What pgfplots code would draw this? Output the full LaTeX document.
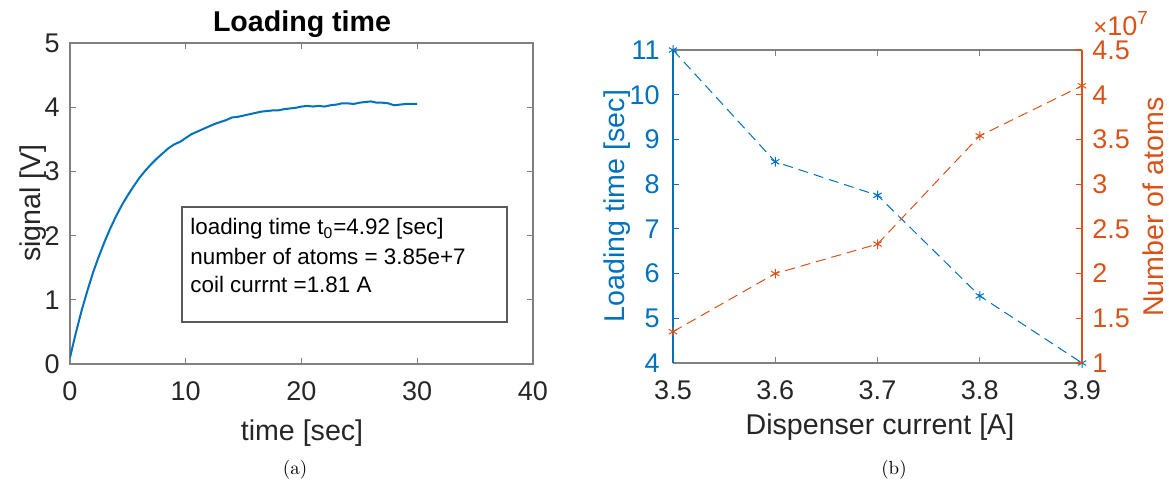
\documentclass[border=0pt]{standalone}
\usepackage{fontspec}
\newfontfamily\arial{Liberation Sans}
\usepackage{pgfplots}
\pgfplotsset{compat=1.18}
\definecolor{mblue}{RGB}{0,114,189}
\definecolor{morange}{RGB}{217,83,25}
\definecolor{axgray}{RGB}{128,128,128}
\definecolor{tickgray}{RGB}{38,38,38}
\newcommand{\tickfont}{\arial\fontsize{13.5}{13.5}\selectfont}
\newcommand{\labfont}{\arial\fontsize{14.3}{14.3}\selectfont}
\begin{document}
\begin{tikzpicture}
\useasboundingbox (0pt,0pt) rectangle (584.5pt,243.5pt);
\pgfplotsset{
  common/.style={
    anchor=south west, scale only axis,
    axis line style={axgray, line width=0.6pt},
    tick style={axgray, line width=0.6pt},
    tick align=inside, major tick length=3pt,
    ticklabel style={font=\tickfont, text=tickgray},
    /pgf/number format/assume math mode=true,
    xticklabel style={inner sep=0pt, anchor=north, yshift=-8.5pt},
  }
}
% ---------- panel (a)
\begin{axis}[common,
  at={(35pt,61.5pt)}, width=231.5pt, height=160.5pt,
  xmin=0, xmax=40, ymin=0, ymax=5,
  xtick={0,10,20,30,40}, ytick={0,1,2,3,4,5},
  yticklabel style={inner sep=0pt, anchor=east, xshift=-5pt},
]
\addplot[mblue, line width=1pt] coordinates {
(0,0.10)(0.5,0.48)(1,0.83)(1.5,1.14)(2,1.43)(2.5,1.68)(3,1.91)(3.5,2.12)
(4,2.31)(4.5,2.48)(5,2.63)(5.5,2.77)(6,2.90)(6.5,3.01)(7,3.11)(7.5,3.20)
(8,3.28)(8.5,3.36)(9,3.42)(9.5,3.46)(10,3.52)(10.5,3.58)(11,3.62)(11.5,3.66)
(12,3.70)(12.5,3.74)(13,3.77)(13.5,3.80)(14,3.84)(14.5,3.85)(15,3.87)(15.5,3.89)
(16,3.91)(16.5,3.93)(17,3.94)(17.5,3.95)(18,3.95)(18.5,3.97)(19,3.98)(19.5,3.99)
(20,4.01)(20.5,4.02)(21,4.01)(21.5,4.02)(22,4.01)(22.5,4.03)(23,4.04)(23.5,4.06)
(24,4.06)(24.5,4.05)(25,4.07)(25.5,4.08)(26,4.09)(26.5,4.07)(27,4.07)(27.5,4.06)
(28,4.03)(28.5,4.04)(29,4.05)(29.5,4.05)(30,4.05)};
\end{axis}
% ---------- panel (b), left axis
\begin{axis}[common,
  at={(336.5pt,62pt)}, width=204.5pt, height=156.5pt,
  xmin=3.5, xmax=3.9, ymin=4, ymax=11,
  xtick={3.5,3.6,3.7,3.8,3.9}, ytick={4,5,6,7,8,9,10,11},
  xticklabel={\pgfmathprintnumber[fixed,fixed zerofill,precision=1]{\tick}},
  axis y line*=left,
  y axis line style={mblue, line width=0.6pt},
  ytick style={mblue, line width=0.6pt},
  yticklabel style={inner sep=0pt, anchor=east, xshift=-6.5pt, text=mblue},
]
\addplot[mblue, line width=0.5pt, dash pattern=on 5pt off 3pt, mark=asterisk, mark size=2.4pt, mark options={solid}]
coordinates {(3.5,11)(3.6,8.5)(3.7,7.75)(3.8,5.5)(3.9,4)};
\end{axis}
% ---------- panel (b), right axis
\begin{axis}[common,
  at={(336.5pt,62pt)}, width=204.5pt, height=156.5pt,
  xmin=3.5, xmax=3.9, ymin=1e7, ymax=4.5e7,
  ytick={1e7,1.5e7,2e7,2.5e7,3e7,3.5e7,4e7,4.5e7},
  axis x line=none, axis y line*=right,
  y axis line style={morange, line width=0.6pt},
  ytick style={morange, line width=0.6pt},
  yticklabel style={inner sep=0pt, anchor=west, xshift=5pt, text=morange},
  scaled y ticks=base 10:-7,
  ytick scale label code/.code={\tickfont\textcolor{morange}{{\fontsize{12}{12}\selectfont ×}10\textsuperscript{7}}},
  every y tick scale label/.style={at={(rel axis cs:1,1)}, anchor=south west, inner sep=0pt, xshift=0.5pt, yshift=7pt},
]
\addplot[morange, line width=0.5pt, dash pattern=on 5pt off 3pt, mark=asterisk, mark size=2.4pt, mark options={solid}]
coordinates {(3.5,1.35e7)(3.6,2.0e7)(3.7,2.33e7)(3.8,3.54e7)(3.9,4.1e7)};
\end{axis}
% ---------- labels
\node[anchor=base, font=\labfont\bfseries, text=black] at (151pt,227.5pt) {Loading time};
\node[anchor=base, font=\labfont, text=tickgray] at (151pt,23pt) {time [sec]};
\node[rotate=90, font=\labfont, text=tickgray] at (16.5pt,142pt) {signal [V]};
\draw[axgray!70!black, line width=0.6pt, fill=white] (91pt,140pt) rectangle (253.5pt,82.5pt);
\node[anchor=base west, inner sep=0pt, font=\arial\fontsize{11.2}{11.2}\selectfont, text=black] at (95pt,126pt) {loading time t\textsubscript{0}=4.92 [sec]};
\node[anchor=base west, inner sep=0pt, font=\arial\fontsize{11.2}{11.2}\selectfont, text=black] at (95pt,111pt) {number of atoms = 3.85e+7};
\node[anchor=base west, inner sep=0pt, font=\arial\fontsize{11.2}{11.2}\selectfont, text=black] at (95pt,97pt) {coil currnt =1.81 A};
\node[rotate=90, font=\labfont, text=mblue] at (308.5pt,140.5pt) {Loading time [sec]};
\node[rotate=90, font=\labfont, text=morange] at (576.5pt,140pt) {Number of atoms};
\node[anchor=base, font=\labfont, text=tickgray] at (440pt,26pt) {Dispenser current [A]};
\node[font=\fontsize{9.5}{9.5}\selectfont] at (147.5pt,8.5pt) {(a)};
\node[font=\fontsize{9.5}{9.5}\selectfont] at (447pt,8.5pt) {(b)};
\end{tikzpicture}
\end{document}
